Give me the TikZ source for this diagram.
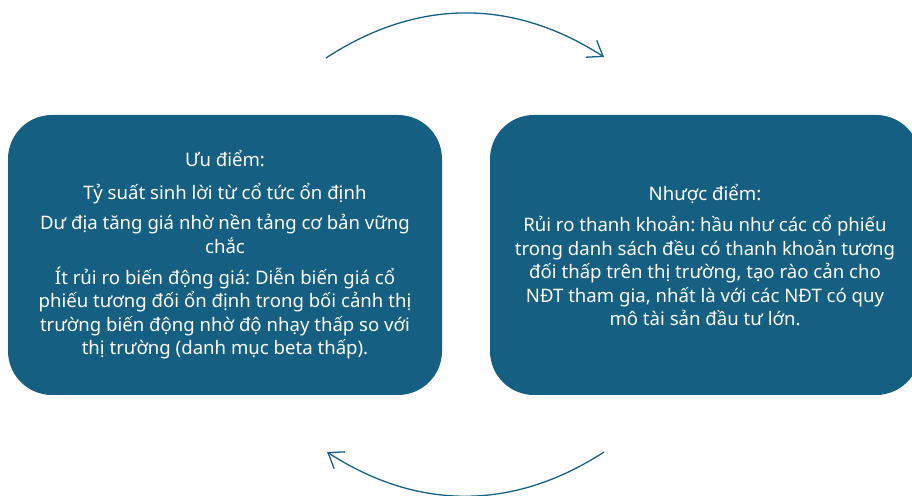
\documentclass[tikz,border=0pt]{standalone}
\usepackage{fontspec}
\setmainfont{Noto Sans}
\usetikzlibrary{arrows.meta}
\definecolor{accentblue}{HTML}{156082}
\frenchspacing

\begin{document}
\begin{tikzpicture}[x=1pt,y=1pt,
        panel/.style={fill=accentblue, rounded corners=44pt, text=white, align=center,
            font=\fontsize{18.6}{23.4}\selectfont, minimum height=280pt},
        cycle/.style={draw=accentblue, line width=1.3pt, -{Straight Barb[length=14pt,width=20pt]}}]
        \useasboundingbox (0,0) rectangle (912,495);

        \node (uudiem) [panel, minimum width=434pt] at (225,240) {Ưu điểm:\\[9pt]
            Tỷ suất sinh lời từ cổ tức ổn định\\[7pt]
            Dư địa tăng giá nhờ nền tảng cơ bản vững\\chắc\\[8pt]
            Ít rủi ro biến động giá: Diễn biến giá cổ\\
            phiếu tương đối ổn định trong bối cảnh thị\\
            trường biến động nhờ độ nhạy thấp so với\\
            thị trường (danh mục beta thấp).};
        \node (nhuocdiem) [panel, minimum width=430pt] at (705,240) {Nhược điểm:\\[8pt]
            Rủi ro thanh khoản: hầu như các cổ phiếu\\
            trong danh sách đều có thanh khoản tương\\
            đối thấp trên thị trường, tạo rào cản cho\\
            NĐT tham gia, nhất là với các NĐT có quy\\
            mô tài sản đầu tư lớn.};

        \coordinate (topstart) at (326,437);
        \coordinate (topend) at (604,438);
        \coordinate (botstart) at (604,43);
        \coordinate (botend) at (327,43);

        \draw[cycle] (topstart) to[bend left=33] (topend);
        \draw[cycle] (botstart) to[bend left=33] (botend);
    \end{tikzpicture}
\end{document}
